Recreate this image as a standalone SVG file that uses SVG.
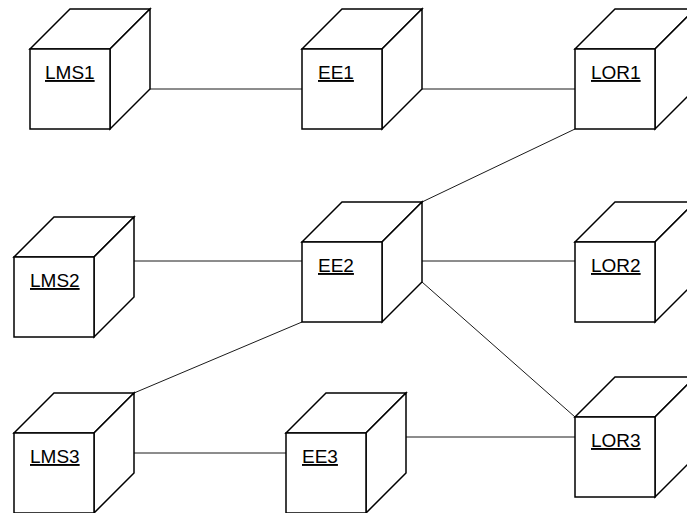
<svg xmlns="http://www.w3.org/2000/svg" width="687" height="513" viewBox="0 0 687 513">
<defs>
<style>
.bg{fill:#ffffff}
.face{fill:#ffffff;stroke:#000000;stroke-width:1.5;stroke-linejoin:miter}
.edge{fill:none;stroke:#000000;stroke-width:1.2}
.conn{fill:none;stroke:#1a1a1a;stroke-width:1}
.lbl{font-family:"Liberation Sans",Arial,sans-serif;font-size:19px;fill:#000000;text-decoration:underline}
</style>
<g id="cube">
<polygon class="face" points="0,0 40,-40 120,-40 80,0"/>
<polygon class="face" points="80,0 120,-40 120,40 80,80"/>
<rect class="face" x="0" y="0" width="80" height="80"/>
</g>
</defs>
<rect class="bg" x="0" y="0" width="687" height="513"/>
<g id="connectors">
<line class="conn" x1="150" y1="89" x2="302" y2="89"/>
<line class="conn" x1="422" y1="89" x2="575" y2="89"/>
<line class="conn" x1="575" y1="129" x2="422" y2="202"/>
<line class="conn" x1="134" y1="261" x2="302" y2="261"/>
<line class="conn" x1="422" y1="261" x2="575" y2="261"/>
<line class="conn" x1="422" y1="282" x2="575" y2="417"/>
<line class="conn" x1="302" y1="322" x2="134" y2="393"/>
<line class="conn" x1="134" y1="453" x2="286" y2="453"/>
<line class="conn" x1="406" y1="437" x2="575" y2="437"/>
</g>
<g id="LMS1"><use href="#cube" x="30" y="49"/><text class="lbl" x="45" y="79">LMS1</text></g>
<g id="EE1"><use href="#cube" x="302" y="49"/><text class="lbl" x="318" y="79">EE1</text></g>
<g id="LOR1"><use href="#cube" x="575" y="49"/><text class="lbl" x="591" y="79">LOR1</text></g>
<g id="LMS2"><use href="#cube" x="14" y="257"/><text class="lbl" x="30" y="287">LMS2</text></g>
<g id="EE2"><use href="#cube" x="302" y="242"/><text class="lbl" x="318" y="272">EE2</text></g>
<g id="LOR2"><use href="#cube" x="575" y="242"/><text class="lbl" x="591" y="272">LOR2</text></g>
<g id="LMS3"><use href="#cube" x="14" y="433"/><text class="lbl" x="30" y="463">LMS3</text></g>
<g id="EE3"><use href="#cube" x="286" y="433"/><text class="lbl" x="302" y="463">EE3</text></g>
<g id="LOR3"><use href="#cube" x="575" y="417"/><text class="lbl" x="591" y="447">LOR3</text></g>
</svg>
